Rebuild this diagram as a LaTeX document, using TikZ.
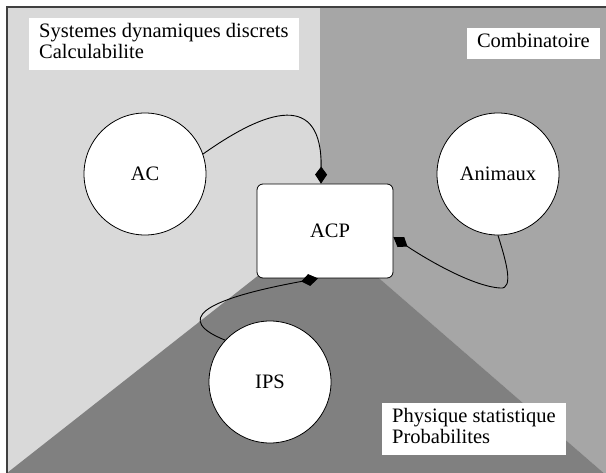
\documentclass[tikz,border=0pt]{standalone}
\usepackage{fontspec}
\setmainfont{Liberation Serif}
\usetikzlibrary{arrows.meta}
\definecolor{lightg}{HTML}{D9D9D9}
\definecolor{midg}{HTML}{A6A6A6}
\definecolor{darkg}{HTML}{808080}
\begin{document}
\begin{tikzpicture}[x=1pt,y=-1pt,
  every node/.style={font=\fontsize{20.5}{21}\selectfont},
  bubble/.style={circle,draw=black,fill=white,line width=0.8pt,minimum size=122pt,inner sep=0pt},
  core/.style={rectangle,rounded corners=6pt,draw=black,fill=white,line width=0.8pt,minimum width=136pt,minimum height=94pt,inner sep=0pt},
  tag/.style={fill=white,align=left,inner xsep=10pt,inner ysep=5pt},
  link/.style={draw=black,line width=0.9pt,-{Kite[length=17pt,width=12pt,inset=8pt]}}]
\useasboundingbox (0,0) rectangle (606,473);
\fill[white] (0,0) rectangle (606,473);
\fill[lightg] (7,7) rectangle (606,480);
\fill[midg] (320,7) -- (606,7) -- (606,475) -- (320,227) -- cycle;
\fill[darkg] (320,227) -- (606,475) -- (606,480) -- (7,480) -- (7,473) -- cycle;
\draw[black!75,line width=1.5pt] (7,480) -- (7,7) -- (606,7);

\node[tag,anchor=north west] (t1) at (29,18) {Systemes dynamiques discrets\\Calculabilite\rule[-7pt]{0pt}{7pt}};
\node[tag,anchor=north east] (t2) at (600,28) {Combinatoire\rule[-7pt]{0pt}{7pt}};
\node[tag,anchor=north west] (t3) at (382,403) {Physique statistique\\Probabilites\rule[-7pt]{0pt}{7pt}};

\node[bubble] (ac) at (145,174) {AC};
\node[bubble] (ani) at (498,174) {Animaux};
\node[bubble] (ips) at (270,382) {IPS};
\node[core] (acp) at (325,231) {\hspace*{10pt}ACP};

\draw[link] (ac.19) .. controls (268,108) and (322,92) .. ([xshift=-4pt]acp.north);
\draw[link] (ani.south) .. controls (505,258) and (515,290) .. (500,288)
  .. controls (470,286) and (420,255) .. ([yshift=-6pt]acp.east);
\draw[link] (ips.137) .. controls (175,320) and (200,300) .. ([xshift=-7pt]acp.south);
\end{tikzpicture}
\end{document}
